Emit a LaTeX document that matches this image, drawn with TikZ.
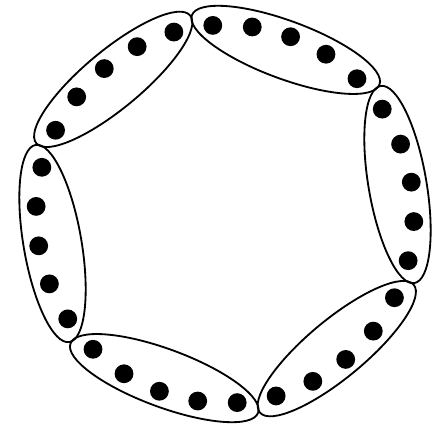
\documentclass[tikz,border=0pt]{standalone}
\usepackage{tikz}
\usetikzlibrary{calc}

\begin{document}
\begin{tikzpicture}[
  x=0.025cm, y=0.025cm,
  dot/.style={circle, fill=black, inner sep=0pt, minimum size=0.47cm},
  ring/.style={draw, line width=1.3pt}
]
\useasboundingbox (-225,-211) rectangle (207,214);
\foreach \g in {0,...,5} {
  \pgfmathsetmacro{\ctr}{129.7-60*\g}
  \draw[ring, rotate=\ctr] (175,0) ellipse [x radius=29, y radius=100];
  \foreach \k in {0,...,4} {
    \pgfmathsetmacro{\ang}{\ctr+24-12*\k}
    \node[dot] (d\g-\k) at (\ang:189) {};
  }
}
\end{tikzpicture}
\end{document}
